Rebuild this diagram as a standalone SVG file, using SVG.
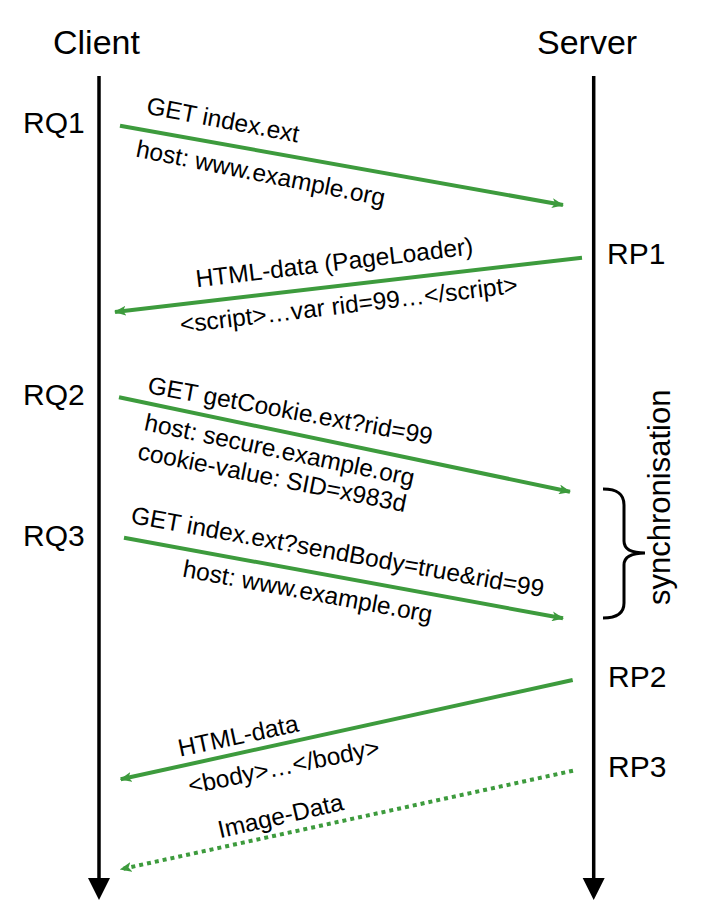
<svg xmlns="http://www.w3.org/2000/svg" width="703" height="922" viewBox="0 0 703 922">
<style>
text{font-family:"Liberation Sans",Arial,sans-serif;fill:#000}
.title{font-size:34px}
.tag{font-size:30px}
.sync{font-size:31px}
.lbl{font-size:24.5px}
.life{stroke:#000;stroke-width:3.5;fill:none}
.msg{stroke:#3d9b3d;stroke-width:4;fill:none}
.dot{stroke-dasharray:4 4}
</style>
<defs>
<marker id="ah" markerUnits="userSpaceOnUse" viewBox="0 0 12 10" markerWidth="12" markerHeight="10" refX="11" refY="5" orient="auto">
<path d="M0,0 L12,5 L0,10 L3,5 z" fill="#3d9b3d"/>
</marker>
</defs>
<rect width="703" height="922" fill="#fff"/>
<g id="client">
<text class="title" x="53" y="54">Client</text>
<line class="life" x1="99" y1="76" x2="99" y2="880"/>
<path d="M88,878 L110,878 L99,900 z" fill="#000"/>
</g>
<g id="server">
<text class="title" x="537" y="54">Server</text>
<line class="life" x1="593.7" y1="76" x2="593.7" y2="880"/>
<path d="M582.7,878 L604.7,878 L593.7,900 z" fill="#000"/>
</g>
<g id="tags">
<text class="tag" x="23" y="133">RQ1</text>
<text class="tag" x="23" y="405">RQ2</text>
<text class="tag" x="23" y="546">RQ3</text>
<text class="tag" x="607" y="264">RP1</text>
<text class="tag" x="608" y="687">RP2</text>
<text class="tag" x="608" y="777">RP3</text>
</g>
<g id="sync">
<path d="M603,489 C616,489 624,493 624,505 L624,541 C624,549 630,553 645,553 C630,553 624,557 624,565 L624,603 C624,614 616,618 603,618" stroke="#000" stroke-width="3" fill="none"/>
<text class="sync" transform="translate(670,605) rotate(-90)">synchronisation</text>
</g>
<g id="connectors">
<line class="msg" x1="120" y1="125.7" x2="563" y2="205" marker-end="url(#ah)"/>
<line class="msg" x1="582" y1="257.7" x2="115" y2="312" marker-end="url(#ah)"/>
<line class="msg" x1="119" y1="397.3" x2="570" y2="491.7" marker-end="url(#ah)"/>
<line class="msg" x1="124" y1="537.7" x2="563" y2="618.3" marker-end="url(#ah)"/>
<line class="msg" x1="572.7" y1="680" x2="120.7" y2="779.3" marker-end="url(#ah)"/>
<line class="msg dot" x1="573" y1="770.7" x2="120.7" y2="869.3" marker-end="url(#ah)"/>
</g>
<g id="labels">
<text class="lbl" transform="translate(145.5,113.5) rotate(10.8)">GET index.ext</text>
<text class="lbl" transform="translate(135,156.5) rotate(11.3)">host: www.example.org</text>
<text class="lbl" transform="translate(196.7,287.3) rotate(-6.8)">HTML-data (PageLoader)</text>
<text class="lbl" transform="translate(181,333) rotate(-6.8)">&lt;script&gt;…var rid=99…&lt;/script&gt;</text>
<text class="lbl" transform="translate(146.7,393) rotate(10.3)">GET getCookie.ext?rid=99</text>
<text class="lbl" transform="translate(143.3,430) rotate(11.8)">host: secure.example.org</text>
<text class="lbl" transform="translate(136.7,459) rotate(11.2)">cookie-value: SID=x983d</text>
<text class="lbl" transform="translate(130,523) rotate(10.2)">GET index.ext?sendBody=true&amp;rid=99</text>
<text class="lbl" transform="translate(181.7,576.5) rotate(10.5)">host: www.example.org</text>
<text class="lbl" transform="translate(180,756.7) rotate(-12)">HTML-data</text>
<text class="lbl" transform="translate(190,794) rotate(-11.5)">&lt;body&gt;…&lt;/body&gt;</text>
<text class="lbl" transform="translate(220,838.3) rotate(-12.9)">Image-Data</text>
</g>
</svg>
